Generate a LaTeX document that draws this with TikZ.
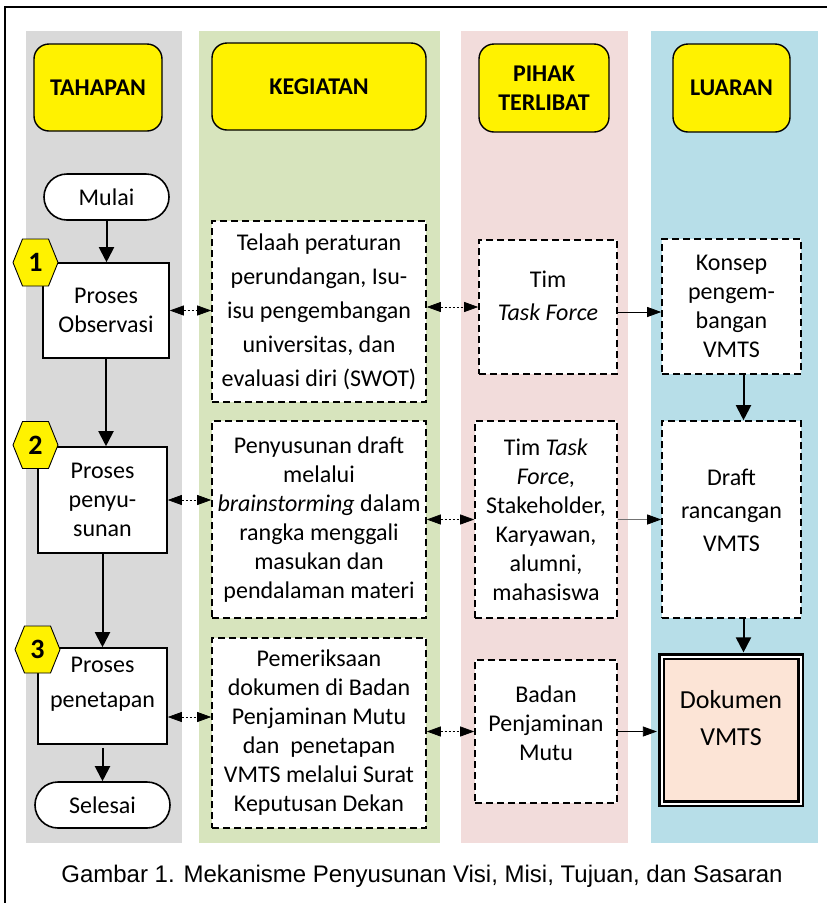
\documentclass[tikz,border=0pt]{standalone}
\usepackage{fontspec}
\setmainfont{Carlito}
\newfontfamily\captionfont{Liberation Sans}
\usepackage{xcolor}
\usetikzlibrary{arrows.meta}
\usetikzlibrary{calc}

\definecolor{lanegray}{HTML}{D9D9D9}
\definecolor{lanegreen}{HTML}{D7E4BD}
\definecolor{lanepink}{HTML}{F2DCDB}
\definecolor{laneblue}{HTML}{B7DEE8}
\definecolor{docpeach}{HTML}{FCE4D6}

\tikzset{
    header/.style={draw, line width=1.4pt, fill=yellow, rounded corners=15pt, align=center, inner sep=0pt, font=\bfseries\fontsize{24}{29}\selectfont},
    procbox/.style={draw, line width=1.6pt, fill=white, align=center, inner sep=0pt, font=\fontsize{24}{29}\selectfont},
    termbox/.style={procbox, rounded corners=23pt},
    dashbox/.style={procbox, dash pattern=on 7pt off 4pt},
    boxtext/.style={align=center, inner sep=0pt, font=\fontsize{24}{29}\selectfont},
    hexnum/.style={inner sep=0pt, font=\bfseries\fontsize{28}{28}\selectfont},
    hexfill/.style={fill=yellow, draw, line width=0.9pt},
    flow/.style={-{Triangle[length=15pt,width=15pt]}, line width=2pt},
    link/.style={{Triangle[length=14pt,width=10pt]}-{Triangle[length=14pt,width=10pt]}, line width=0.7pt, dash pattern=on 2pt off 2pt},
    feed/.style={-{Triangle[length=14pt,width=10pt]}, line width=0.8pt}
}

\begin{document}
\begin{tikzpicture}[x=1pt, y=-1pt]
    \useasboundingbox (0,0) rectangle (827,903);
    \clip (0,0) rectangle (827,903);
    \draw[line width=2pt] (5,7) rectangle (850,930);

    % lanes
    \fill[lanegray] (26,31) rectangle (182,843);
    \fill[lanegreen] (199,31) rectangle (440,843);
    \fill[lanepink] (461,31) rectangle (628,843);
    \fill[laneblue] (651,31) rectangle (818,843);

    % headers
    \node[header, minimum width=128pt, minimum height=87pt] (tahapan) at (98,87.5) {TAHAPAN};
    \node[header, minimum width=214pt, minimum height=87pt] (kegiatan) at (319,86.5) {KEGIATAN};
    \node[header, minimum width=130pt, minimum height=88pt] (pihak) at (544,88) {PIHAK\\TERLIBAT};
    \node[header, minimum width=117pt, minimum height=88pt] (luaran) at (731.5,88) {LUARAN};

    % tahapan
    \node[termbox, minimum width=125pt, minimum height=46pt] (mulai) at (106.5,197) {Mulai};
    \node[procbox, minimum width=126pt, minimum height=95pt] (obs) at (106,310.5) {Proses\\Observasi};
    \node[procbox, minimum width=129pt, minimum height=106pt] (pen) at (102.5,500) {Proses\\penyu-\\sunan};
    \node[procbox, minimum width=129pt, minimum height=96pt] (pnt) at (102.5,696) {};
    \node[boxtext, font=\fontsize{24}{35}\selectfont] (pnttxt) at (102.5,684.5) {Proses\\penetapan};
    \node[termbox, minimum width=135pt, minimum height=46pt] (selesai) at (102.5,805) {Selesai};

    \foreach \n/\cx/\cy in {1/35.5/262.5, 2/35.5/445, 3/37.5/649.5} {
        \filldraw[hexfill] (\cx-22.5,\cy) -- (\cx-13,\cy-23.5) -- (\cx+13,\cy-23.5)
            -- (\cx+22.5,\cy) -- (\cx+13,\cy+23.5) -- (\cx-13,\cy+23.5) -- cycle;
        \node[hexnum] (hex\n) at (\cx,\cy) {\n};
    }

    % kegiatan
    \node[dashbox, minimum width=214pt, minimum height=181pt, font=\fontsize{24}{34}\selectfont] (telaah) at (319,311.5)
        {Telaah peraturan\\perundangan, Isu-\\isu pengembangan\\universitas, dan\\evaluasi diri (SWOT)};
    \node[dashbox, minimum width=214pt, minimum height=197pt] (pdraft) at (319,519.5)
        {Penyusunan draft\\melalui\\\textit{brainstorming} dalam\\rangka menggali\\masukan dan\\pendalaman materi};
    \node[dashbox, minimum width=214pt, minimum height=190pt] (pem) at (319,733)
        {Pemeriksaan\\dokumen di Badan\\Penjaminan Mutu\\dan\ \ penetapan\\VMTS melalui Surat\\Keputusan Dekan};

    % pihak terlibat
    \node[dashbox, minimum width=138pt, minimum height=134pt] (tim1) at (548,307) {};
    \node[boxtext, font=\fontsize{24}{33}\selectfont] (tim1txt) at (548,296) {Tim\\\textit{Task Force}};
    \node[dashbox, minimum width=142pt, minimum height=197pt] (tim2) at (546,519.5)
        {Tim \textit{Task}\\\textit{Force,}\\Stakeholder,\\Karyawan,\\alumni,\\mahasiswa};
    \node[dashbox, minimum width=142pt, minimum height=143pt] (badan) at (546,731.5) {};
    \node[boxtext] (badantxt) at (546,723) {Badan\\Penjaminan\\Mutu};

    % luaran
    \node[dashbox, minimum width=139pt, minimum height=135pt] (konsep) at (731.5,306.5) {Konsep\\pengem-\\bangan\\VMTS};
    \node[dashbox, minimum width=139pt, minimum height=197pt] (drf) at (731.5,519.5) {};
    \node[boxtext, font=\fontsize{24}{33}\selectfont] (drftxt) at (731.5,510) {Draft\\rancangan\\VMTS};
    \node[draw, double, line width=2.2pt, double distance=2pt, fill=docpeach, inner sep=0pt,
        minimum width=139pt, minimum height=147pt] (dok) at (731,730) {};
    \node[boxtext, font=\fontsize{26}{37}\selectfont] (doktxt) at (731,718) {Dokumen\\VMTS};

    % alur
    \draw[flow] (mulai.south) -- (mulai.south |- obs.north);
    \draw[flow] (obs.south) -- (obs.south |- pen.north);
    \draw[flow] (pen.south) -- (pen.south |- pnt.north);
    \draw[flow] ([yshift=-3pt]pnt.south) -- (pnt.south |- selesai.north);
    \draw[flow] ([xshift=12pt]konsep.south) -- ([xshift=12pt]konsep.south |- drf.north);
    \draw[flow, shorten >=3pt] ([xshift=12pt]drf.south) -- ([xshift=12pt]drf.south |- dok.north);

    \draw[link] (obs.east) -- (obs.east -| telaah.west);
    \draw[link] (tim1.west -| telaah.east) -- (tim1.west);
    \draw[feed] ([yshift=-5pt]tim1.east) -- ([yshift=-5pt]tim1.east -| konsep.west);
    \draw[link] (pen.east) -- (pen.east -| pdraft.west);
    \draw[link] (tim2.west -| pdraft.east) -- (tim2.west);
    \draw[feed, draw=black!55, -{Triangle[length=14pt,width=10pt,black]}] (tim2.east) -- (tim2.east -| drf.west);
    \draw[link] ([yshift=-21pt]pnt.east) -- ([yshift=-21pt]pnt.east -| pem.west);
    \draw[link] (badan.west -| pem.east) -- (badan.west);
    \draw[feed, shorten >=3.5pt] (badan.east) -- (badan.east -| dok.west);

    \node[font=\captionfont\fontsize{24}{24}\selectfont] (caption) at (422,876)
        {Gambar 1. Mekanisme Penyusunan Visi, Misi, Tujuan, dan Sasaran};
\end{tikzpicture}
\end{document}
